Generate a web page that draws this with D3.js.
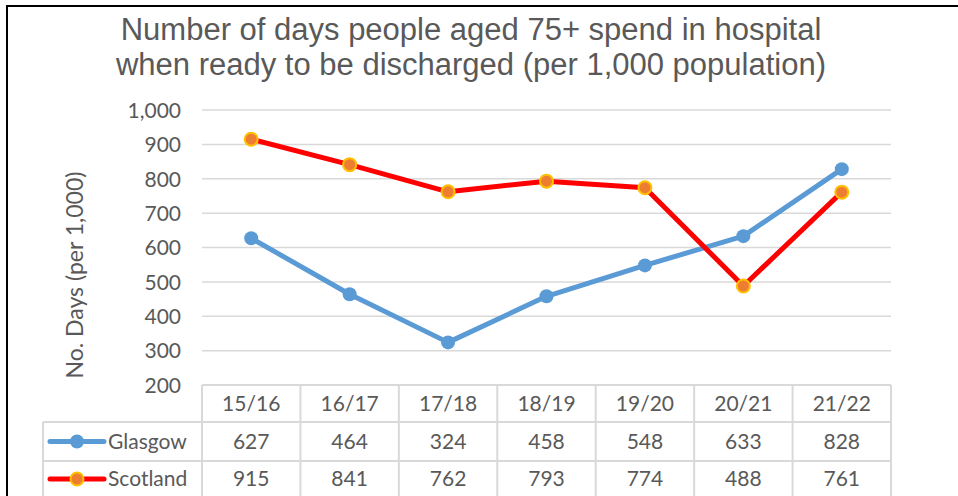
<!DOCTYPE html>
<html>
<head>
<meta charset="utf-8">
<script src="https://cdn.jsdelivr.net/npm/d3@7"></script>
<style>
  html, body { margin: 0; padding: 0; background: #fff; }
  svg { display: block; }
</style>
</head>
<body>
<svg id="chart" width="958" height="496"></svg>
<script>
// Delayed discharge bed days, people aged 75+, per 1,000 population
const years = ["15/16", "16/17", "17/18", "18/19", "19/20", "20/21", "21/22"];
const glasgow = [627, 464, 324, 458, 548, 633, 828];
const scotland = [915, 841, 762, 793, 774, 488, 761];
const yTicks = [200, 300, 400, 500, 600, 700, 800, 900, 1000];

const series = [
  { name: "Glasgow", values: glasgow, line: "#5B9BD5", fill: "#5B9BD5", stroke: "#5B9BD5" },
  { name: "Scotland", values: scotland, line: "#FF0000", fill: "#ED7D31", stroke: "#FFC000" }
];

const svg = d3.select("#chart");
const textCol = "#595959";
const gridCol = "#D9D9D9";
const tickFont = "Lato, 'Open Sans', sans-serif";

// Frame
svg.append("line").attr("x1", 7).attr("x2", 958).attr("y1", 6).attr("y2", 6)
  .attr("stroke", "#000").attr("stroke-width", 2);
svg.append("line").attr("x1", 7).attr("x2", 7).attr("y1", 5).attr("y2", 496)
  .attr("stroke", "#000").attr("stroke-width", 2);

// Title, two lines
const titleLines = [
  "Number of days people aged 75+ spend in hospital",
  "when ready to be discharged (per 1,000 population)"
];
svg.append("g").selectAll("text").data(titleLines).join("text")
  .attr("x", 471)
  .attr("y", (d, i) => 40 + i * 35)
  .attr("text-anchor", "middle")
  .attr("fill", textCol)
  .style("font-family", "'Liberation Sans', Arial, sans-serif")
  .style("font-size", "31px")
  .text(d => d);

// Scales
const x = d3.scaleBand().domain(years).range([202, 891]);
const y = d3.scaleLinear().domain([200, 1000]).range([385, 110]);

// Gridlines
svg.append("g").selectAll("line").data(yTicks.slice(1)).join("line")
  .attr("x1", 202).attr("x2", 891)
  .attr("y1", d => y(d)).attr("y2", d => y(d))
  .attr("stroke", gridCol).attr("stroke-width", 1.5);

// Y axis labels
const yAxis = d3.axisLeft(y).tickValues(yTicks).tickFormat(d3.format(",")).tickSize(0).tickPadding(0);
const gy = svg.append("g").attr("transform", "translate(181,0)").call(yAxis);
gy.select(".domain").remove();
gy.selectAll("text")
  .attr("fill", textCol)
  .attr("dy", "0.35em")
  .style("font-family", tickFont)
  .style("font-size", "21px");

// Axis title
svg.append("text")
  .attr("transform", "translate(83,275) rotate(-90)")
  .attr("text-anchor", "middle")
  .attr("fill", textCol)
  .style("font-family", tickFont)
  .style("font-size", "23px")
  .text("No. Days (per 1,000)");

// Lines and markers
const line = d3.line().x((d, i) => x(years[i]) + x.bandwidth() / 2).y(d => y(d));
series.forEach(s => {
  svg.append("path").datum(s.values)
    .attr("d", line)
    .attr("fill", "none")
    .attr("stroke", s.line)
    .attr("stroke-width", 5)
    .attr("stroke-linejoin", "round");
  svg.append("g").selectAll("circle").data(s.values).join("circle")
    .attr("cx", (d, i) => x(years[i]) + x.bandwidth() / 2)
    .attr("cy", d => y(d))
    .attr("r", s.name === "Glasgow" ? 7 : 6.5)
    .attr("fill", s.fill)
    .attr("stroke", s.stroke)
    .attr("stroke-width", s.name === "Glasgow" ? 0 : 2);
});

// Data table
const rowTops = [385, 422, 461, 500];
const tableLeft = 43;
const tbl = svg.append("g");
const cellLine = (x1, y1, x2, y2) => tbl.append("line")
  .attr("x1", x1).attr("y1", y1).attr("x2", x2).attr("y2", y2)
  .attr("stroke", gridCol).attr("stroke-width", 2);

cellLine(202, rowTops[0], 891, rowTops[0]);
cellLine(tableLeft, rowTops[1], 891, rowTops[1]);
cellLine(tableLeft, rowTops[2], 891, rowTops[2]);
cellLine(tableLeft, rowTops[1], tableLeft, 496);
years.forEach(yr => cellLine(x(yr), rowTops[0], x(yr), 496));
cellLine(891, rowTops[0], 891, 496);

const tableText = (tx, ty, str, anchor) => tbl.append("text")
  .attr("x", tx).attr("y", ty)
  .attr("text-anchor", anchor)
  .attr("dy", "0.35em")
  .attr("fill", textCol)
  .style("font-family", tickFont)
  .style("font-size", "21px")
  .text(str);

years.forEach(yr => tableText(x(yr) + x.bandwidth() / 2, (rowTops[0] + rowTops[1]) / 2, yr, "middle"));

series.forEach((s, r) => {
  const cy = (rowTops[r + 1] + rowTops[r + 2]) / 2;
  const rowY = r === 1 ? 479 : cy;
  tbl.append("line").attr("x1", 50).attr("x2", 104).attr("y1", rowY).attr("y2", rowY)
    .attr("stroke", s.line).attr("stroke-width", 5).attr("stroke-linecap", "round");
  tbl.append("circle").attr("cx", 77).attr("cy", rowY).attr("r", s.name === "Glasgow" ? 7 : 6.5)
    .attr("fill", s.fill).attr("stroke", s.stroke).attr("stroke-width", s.name === "Glasgow" ? 0 : 2);
  tableText(108, rowY, s.name, "start");
  s.values.forEach((v, i) => tableText(x(years[i]) + x.bandwidth() / 2, rowY, d3.format(",")(v), "middle"));
});
</script>
</body>
</html>
